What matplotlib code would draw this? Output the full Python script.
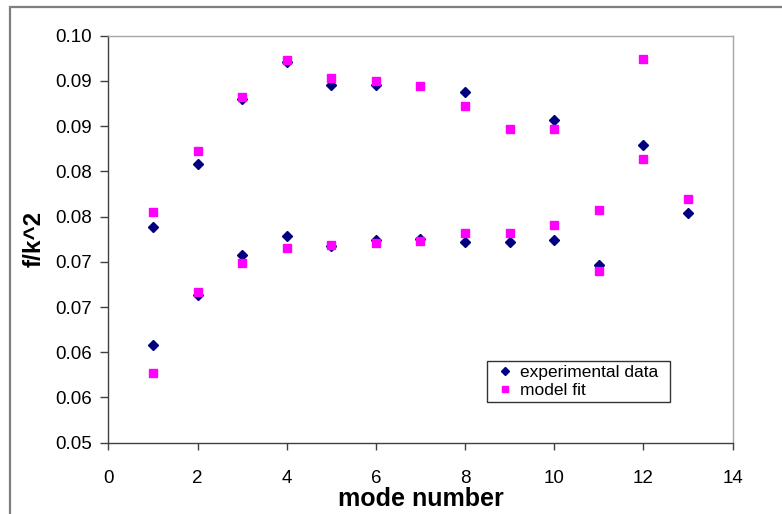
import numpy as np
import matplotlib
matplotlib.use("Agg")
import matplotlib.pyplot as plt
from matplotlib.patches import Rectangle

plt.rcParams['font.family'] = ['Liberation Sans', 'DejaVu Sans']

# measured values (two branches per mode number)
exp_mode = [1, 1, 2, 2, 3, 3, 4, 4, 5, 5, 6, 6, 7, 8, 8, 9, 10, 10, 11, 12, 13]
exp_fk2 = [0.0739, 0.0608, 0.0808, 0.0663, 0.0880, 0.0708, 0.0921, 0.0728,
           0.0896, 0.0718, 0.0896, 0.0724, 0.0725, 0.0888, 0.0722, 0.0722,
           0.0857, 0.0724, 0.0697, 0.0829, 0.0754]

# model predictions
fit_mode = [1, 1, 2, 2, 3, 3, 4, 4, 5, 5, 6, 6, 7, 7, 8, 8, 9, 9, 10, 10,
            11, 11, 12, 12, 13]
fit_fk2 = [0.0755, 0.0577, 0.0822, 0.0667, 0.0882, 0.0699, 0.0923, 0.0715,
           0.0903, 0.0719, 0.0900, 0.0721, 0.0894, 0.0723, 0.0872, 0.0732,
           0.0847, 0.0732, 0.0847, 0.0741, 0.0757, 0.0690, 0.0924, 0.0814,
           0.0769]

x_ticks = [0, 2, 4, 6, 8, 10, 12, 14]
y_ticks = [0.050, 0.055, 0.060, 0.065, 0.070, 0.075, 0.080, 0.085, 0.090, 0.095]
y_tick_labels = ["0.05", "0.06", "0.06", "0.07", "0.07", "0.08", "0.08",
                 "0.09", "0.09", "0.10"]

fig = plt.figure(figsize=(7.82, 5.14), dpi=100)

# outer chart frame
fig.patches.append(Rectangle((10 / 782, -0.1), 1.1, 1 - 7 / 514 + 0.1,
                             transform=fig.transFigure, fill=False,
                             edgecolor='#7f7f7f', linewidth=1.6))

ax = fig.add_axes([108.3 / 782, 1 - 442.7 / 514, 624.4 / 782, 407 / 514])

ax.plot(exp_mode, exp_fk2, linestyle='none', marker='D', markersize=5,
        color='#000080', label='experimental data', zorder=3)
ax.plot(fit_mode, fit_fk2, linestyle='none', marker='s', markersize=5.2,
        color='#FF00FF', label='model fit', zorder=4)

ax.set_xlim(0, 14)
ax.set_ylim(0.05, 0.095)
ax.set_xticks(x_ticks)
ax.set_yticks(y_ticks)
ax.set_yticklabels(y_tick_labels)

for side in ('top', 'right'):
    ax.spines[side].set_color('#a6a6a6')
    ax.spines[side].set_linewidth(1.0)
for side in ('left', 'bottom'):
    ax.spines[side].set_color('#404040')
    ax.spines[side].set_linewidth(1.0)

ax.tick_params(axis='x', direction='out', length=5, width=1, color='#404040',
               labelsize=13.5, pad=15)
ax.tick_params(axis='y', direction='out', length=6, width=1, color='#404040',
               labelsize=13.5, pad=6)

ax.set_xlabel('mode number', fontsize=18, fontweight='bold', labelpad=0)
ax.set_ylabel('f/k^2', fontsize=17.5, fontweight='bold')
ax.yaxis.set_label_coords(-0.10, 0.5)

leg = ax.legend(loc='lower left',
                bbox_to_anchor=(0.6065, 0.0993, 0.293, 0.103),
                mode='expand', borderaxespad=0, fontsize=12.5,
                frameon=True, fancybox=False, edgecolor='black',
                handlelength=1.6, handletextpad=0.05, borderpad=0.25,
                labelspacing=0.15, markerscale=0.8)
leg.get_frame().set_linewidth(1.0)

fig.savefig('out.png', dpi=100)
